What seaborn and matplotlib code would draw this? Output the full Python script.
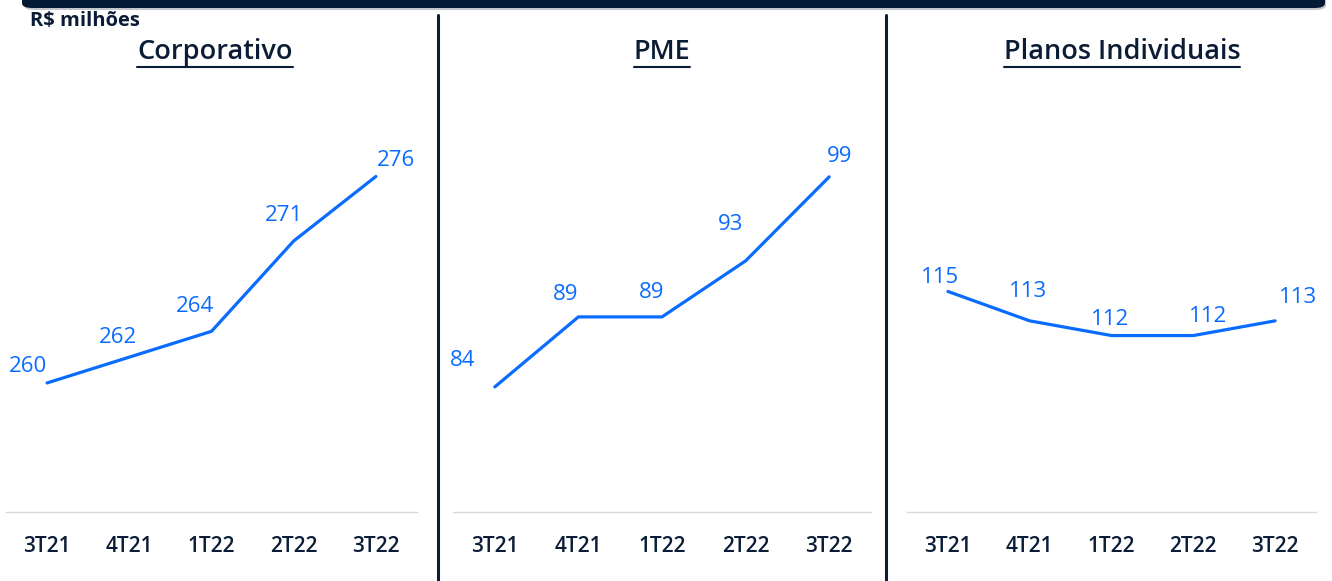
import matplotlib
matplotlib.use("Agg")
import matplotlib.pyplot as plt
from matplotlib.patches import FancyBboxPatch
from matplotlib.lines import Line2D
import pandas as pd
import seaborn as sns

# dados (R$ milhões)
quarters = ["3T21", "4T21", "1T22", "2T22", "3T22"]
corporativo = [260, 262, 264, 271, 276]
pme = [84, 89, 89, 93, 99]
planos = [115, 113, 112, 112, 113]
titles = ["Corporativo", "PME", "Planos Individuais"]

sns.set_theme(style="white")
plt.rcParams["font.family"] = ["Open Sans", "DejaVu Sans"]

NAVY = "#0b1d36"
BLUE = "#0a6cff"

W, H = 1332, 581
fig = plt.figure(figsize=(W / 100, H / 100), dpi=100)

# layout of each panel in pixels: left, right, y-limits, title x
panels = [
    dict(vals=corporativo, x0=6, x1=417, ylim=(250, 282.7), tx=215),
    dict(vals=pme, x0=453, x1=871, ylim=(75.07, 105.2), tx=662),
    dict(vals=planos, x0=907, x1=1316, ylim=(100, 128.7), tx=1122),
]
# label offsets (pixels) relative to each point
offsets = [
    [(-19, 16), (-11, 20), (-17, 25), (-10, 25), (20, 16)],
    [(-32, 26), (-13, 22), (-10, 24), (-15, 36), (10, 20)],
    [(-8, 14), (-2, 29), (-1, 16), (15, 19), (23, 23)],
]

ax_top, ax_bot = 90, 512
for p, title, offs in zip(panels, titles, offsets):
    ax = fig.add_axes([p["x0"] / W, (H - ax_bot) / H,
                       (p["x1"] - p["x0"]) / W, (ax_bot - ax_top) / H])
    df = pd.DataFrame({"trimestre": quarters, "valor": p["vals"]})
    sns.lineplot(data=df, x="trimestre", y="valor", ax=ax, color=BLUE,
                 linewidth=2.3, sort=False)
    ax.set_xlim(-0.5, 4.5)
    ax.set_ylim(*p["ylim"])
    ax.set_xlabel("")
    ax.set_ylabel("")
    ax.set_yticks([])
    for s in ["top", "left", "right"]:
        ax.spines[s].set_visible(False)
    ax.spines["bottom"].set_color("#d9d9d9")
    ax.spines["bottom"].set_linewidth(1)
    ax.tick_params(axis="x", length=0, pad=17, labelsize=15, labelcolor=NAVY)
    for lbl in ax.get_xticklabels():
        lbl.set_fontweight("semibold")
    for i, (v, (dx, dy)) in enumerate(zip(p["vals"], offs)):
        ax.annotate(str(v), (i, v), xytext=(dx, dy), textcoords="offset pixels",
                    ha="center", va="center", fontsize=16, color=BLUE)
    fig.text(p["tx"] / W, 1 - 52 / H, title, ha="center", va="center",
             fontsize=19.5, color=NAVY, fontweight="semibold")

# vertical separators
for x in [438, 886]:
    fig.add_artist(Line2D([x / W, x / W], [0, 1 - 15 / H], color=NAVY, lw=2.2))

# top banner with shadow
fig.add_artist(FancyBboxPatch((24 / W, 1 - 10 / H), 1302 / W, 20 / H,
                              boxstyle="round,pad=0,rounding_size=0.008",
                              transform=fig.transFigure, fc="#9aa3ad", ec="none", alpha=0.6))
fig.add_artist(FancyBboxPatch((22 / W, 1 - 8 / H), 1303 / W, 20 / H,
                              boxstyle="round,pad=0,rounding_size=0.008",
                              transform=fig.transFigure, fc="#021a33", ec="none"))

fig.text(30 / W, 1 - 21 / H, "R$ milhões", ha="left", va="center",
         fontsize=14.5, fontweight="bold", color=NAVY)

# underline the titles
fig.canvas.draw()
r = fig.canvas.get_renderer()
for t in fig.texts:
    if t.get_text() in titles:
        bb = t.get_window_extent(r)
        y = (bb.y0 - 1) / H
        fig.add_artist(Line2D([bb.x0 / W, bb.x1 / W], [y, y], color=NAVY, lw=1.5))

fig.savefig("out.png", dpi=100)
